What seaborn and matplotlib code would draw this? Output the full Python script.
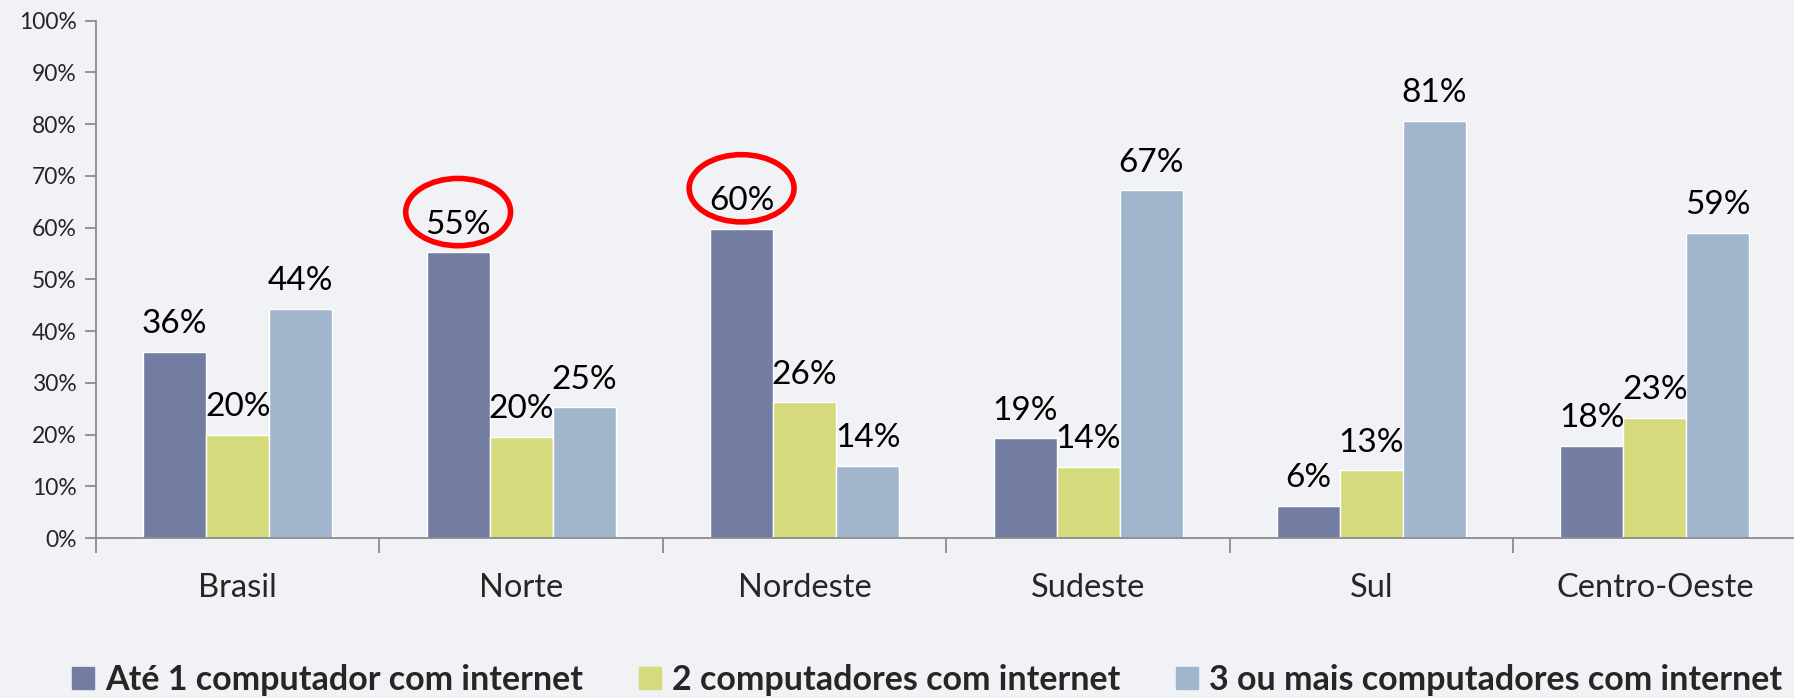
import pandas as pd
import numpy as np
import matplotlib.pyplot as plt
import seaborn as sns
from matplotlib.patches import Ellipse
from matplotlib.lines import Line2D
from matplotlib.ticker import FixedLocator, FuncFormatter

regioes = ['Brasil', 'Norte', 'Nordeste', 'Sudeste', 'Sul', 'Centro-Oeste']
tipos = ['Até 1 computador com internet', '2 computadores com internet',
         '3 ou mais computadores com internet']
ate_1 = [36.0, 55.2, 59.8, 19.3, 6.3, 17.9]
dois = [20.0, 19.6, 26.3, 13.8, 13.1, 23.3]
tres_mais = [44.3, 25.3, 14.0, 67.2, 80.6, 59.0]
destaques = ['Norte', 'Nordeste']

cores = ['#737ca1', '#d5db7c', '#a1b6cd']
fundo = '#f1f2f5'

df = pd.DataFrame({
    'regiao': regioes * 3,
    'tipo': [tipos[0]] * 6 + [tipos[1]] * 6 + [tipos[2]] * 6,
    'valor': ate_1 + dois + tres_mais,
})

sns.set_theme(style='white')
plt.rcParams['font.family'] = ['Lato', 'DejaVu Sans']

fig = plt.figure(figsize=(17.94, 6.98), dpi=100, facecolor=fundo)
ax = fig.add_axes([0.0535, 0.229, 0.948, 0.7415])
ax.set_facecolor(fundo)

largura = 0.667
sns.barplot(data=df, x='regiao', y='valor', hue='tipo', order=regioes, hue_order=tipos,
            palette=cores, width=largura, gap=0, saturation=1, legend=False, ax=ax)

for cont in ax.containers:
    vals = [b.get_height() for b in cont]
    ax.bar_label(cont, labels=[f'{round(v)}%' for v in vals], padding=9,
                 fontsize=24, color='black')

# elipses vermelhas nos destaques
passo = largura / 3
for r in destaques:
    i = regioes.index(r)
    v = ate_1[i]
    ax.add_patch(Ellipse((i - passo, v + 7.8), 0.37, 13.0, fill=False,
                         edgecolor='#ff0000', lw=4, zorder=5, clip_on=False))

ax.set_xlim(-0.5, 5.5)
ax.set_ylim(0, 100)
ax.yaxis.set_major_locator(FixedLocator(np.arange(0, 101, 10)))
ax.yaxis.set_major_formatter(FuncFormatter(lambda v, p: f'{int(v)}%'))
ax.tick_params(axis='y', labelsize=16.5, length=8, width=1.3, color='#8c8c8c',
               direction='out', left=True, pad=6)
ax.set_xticks(range(len(regioes)))
ax.set_xticklabels(regioes, fontsize=23.5)
ax.tick_params(axis='x', length=0, pad=25)
ax.set_xticks(np.arange(-0.5, 6, 1), minor=True)
ax.tick_params(axis='x', which='minor', length=11, width=1.3, color='#8c8c8c',
               direction='out', bottom=True)
ax.set_xlabel('')
ax.set_ylabel('')

for s in ['top', 'right']:
    ax.spines[s].set_visible(False)
for s in ['left', 'bottom']:
    ax.spines[s].set_color('#8c8c8c')
    ax.spines[s].set_linewidth(1.3)

handles = [Line2D([0], [0], marker='s', linestyle='', markersize=16,
                  markerfacecolor=c, markeredgecolor=c) for c in cores]
leg = fig.legend(handles, tipos, loc='center', bbox_to_anchor=(0.516, 0.026), ncol=3,
                 frameon=False, prop={'size': 24.5, 'weight': 'bold'},
                 handletextpad=0.25, columnspacing=1.55, handlelength=0.8)

fig.savefig('out.png', dpi=100, facecolor=fundo)
